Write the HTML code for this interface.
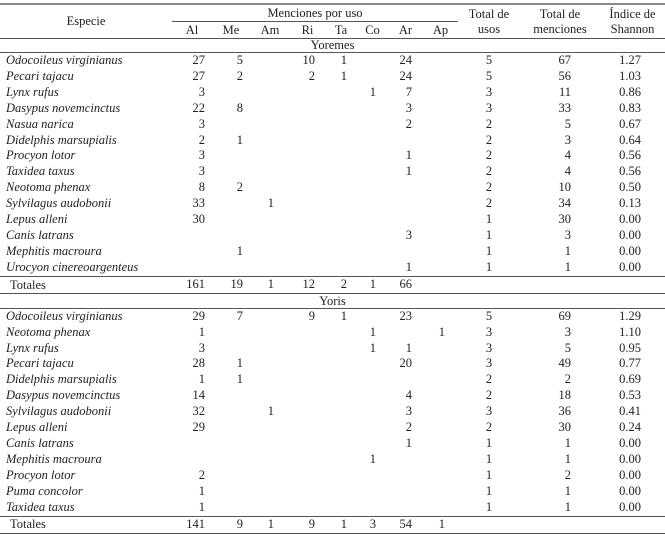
<!DOCTYPE html>
<html><head><meta charset="utf-8"><style>
body{margin:0;background:#fff;width:665px;height:533px;overflow:hidden;font-family:"Liberation Serif",serif;font-size:12.5px;color:#222}
table{position:absolute;left:0;top:3px;width:665px;border-collapse:collapse;table-layout:fixed}
td{padding:0;white-space:nowrap;height:15.9px;line-height:15.9px;text-align:right}
tr.y td{height:15.95px;line-height:15.95px}
td.s{text-align:left;padding-left:6px;font-style:italic}
td.t{text-align:left;padding-left:10px}
.c1{padding-right:7px}.c2{padding-right:7px}.c3{padding-right:16px}.c4{padding-right:10px}.c5{padding-right:10px}.c6{padding-right:12px}.c7{padding-right:11px}.c8{padding-right:13px}.c9{text-align:center}.c10{padding-right:29px}.c11{padding-right:24px}
tr.bt td{border-top:1px solid #555}
tr.bb td{border-bottom:1px solid #555}
th{font-weight:normal;text-align:center;padding:0;line-height:15px;vertical-align:middle}
.grp td{text-align:center}
</style></head><body>
<table>
<colgroup><col style="width:172px"><col style="width:40px"><col style="width:38px"><col style="width:40px"><col style="width:35px"><col style="width:32px"><col style="width:31px"><col style="width:35px"><col style="width:35px"><col style="width:62px"><col style="width:80px"><col style="width:65px"></colgroup>
<tr><th rowspan="2" style="border-top:2px solid #888;border-bottom:1px solid #555;">Especie</th><th colspan="8" style="border-top:2px solid #888;height:17px;"><div style="border-bottom:1px solid #555;line-height:16px">Menciones por uso</div></th><th rowspan="2" style="border-top:2px solid #888;border-bottom:1px solid #555;">Total de<br>usos</th><th rowspan="2" style="border-top:2px solid #888;border-bottom:1px solid #555;">Total de<br>menciones</th><th rowspan="2" style="border-top:2px solid #888;border-bottom:1px solid #555;">Índice de<br>Shannon</th></tr>
<tr><th style="border-bottom:1px solid #555;height:16px">Al</th><th style="border-bottom:1px solid #555">Me</th><th style="border-bottom:1px solid #555">Am</th><th style="border-bottom:1px solid #555">Ri</th><th style="border-bottom:1px solid #555">Ta</th><th style="border-bottom:1px solid #555">Co</th><th style="border-bottom:1px solid #555">Ar</th><th style="border-bottom:1px solid #555">Ap</th></tr>
<tr class="grp bb"><td colspan="12" style="height:13px;line-height:13px">Yoremes</td></tr>
<tr><td class="s">Odocoileus virginianus</td><td class="c1">27</td><td class="c2">5</td><td class="c3"></td><td class="c4">10</td><td class="c5">1</td><td class="c6"></td><td class="c7">24</td><td class="c8"></td><td class="c9">5</td><td class="c10">67</td><td class="c11">1.27</td></tr>
<tr><td class="s">Pecari tajacu</td><td class="c1">27</td><td class="c2">2</td><td class="c3"></td><td class="c4">2</td><td class="c5">1</td><td class="c6"></td><td class="c7">24</td><td class="c8"></td><td class="c9">5</td><td class="c10">56</td><td class="c11">1.03</td></tr>
<tr><td class="s">Lynx rufus</td><td class="c1">3</td><td class="c2"></td><td class="c3"></td><td class="c4"></td><td class="c5"></td><td class="c6">1</td><td class="c7">7</td><td class="c8"></td><td class="c9">3</td><td class="c10">11</td><td class="c11">0.86</td></tr>
<tr><td class="s">Dasypus novemcinctus</td><td class="c1">22</td><td class="c2">8</td><td class="c3"></td><td class="c4"></td><td class="c5"></td><td class="c6"></td><td class="c7">3</td><td class="c8"></td><td class="c9">3</td><td class="c10">33</td><td class="c11">0.83</td></tr>
<tr><td class="s">Nasua narica</td><td class="c1">3</td><td class="c2"></td><td class="c3"></td><td class="c4"></td><td class="c5"></td><td class="c6"></td><td class="c7">2</td><td class="c8"></td><td class="c9">2</td><td class="c10">5</td><td class="c11">0.67</td></tr>
<tr><td class="s">Didelphis marsupialis</td><td class="c1">2</td><td class="c2">1</td><td class="c3"></td><td class="c4"></td><td class="c5"></td><td class="c6"></td><td class="c7"></td><td class="c8"></td><td class="c9">2</td><td class="c10">3</td><td class="c11">0.64</td></tr>
<tr><td class="s">Procyon lotor</td><td class="c1">3</td><td class="c2"></td><td class="c3"></td><td class="c4"></td><td class="c5"></td><td class="c6"></td><td class="c7">1</td><td class="c8"></td><td class="c9">2</td><td class="c10">4</td><td class="c11">0.56</td></tr>
<tr><td class="s">Taxidea taxus</td><td class="c1">3</td><td class="c2"></td><td class="c3"></td><td class="c4"></td><td class="c5"></td><td class="c6"></td><td class="c7">1</td><td class="c8"></td><td class="c9">2</td><td class="c10">4</td><td class="c11">0.56</td></tr>
<tr><td class="s">Neotoma phenax</td><td class="c1">8</td><td class="c2">2</td><td class="c3"></td><td class="c4"></td><td class="c5"></td><td class="c6"></td><td class="c7"></td><td class="c8"></td><td class="c9">2</td><td class="c10">10</td><td class="c11">0.50</td></tr>
<tr><td class="s">Sylvilagus audobonii</td><td class="c1">33</td><td class="c2"></td><td class="c3">1</td><td class="c4"></td><td class="c5"></td><td class="c6"></td><td class="c7"></td><td class="c8"></td><td class="c9">2</td><td class="c10">34</td><td class="c11">0.13</td></tr>
<tr><td class="s">Lepus alleni</td><td class="c1">30</td><td class="c2"></td><td class="c3"></td><td class="c4"></td><td class="c5"></td><td class="c6"></td><td class="c7"></td><td class="c8"></td><td class="c9">1</td><td class="c10">30</td><td class="c11">0.00</td></tr>
<tr><td class="s">Canis latrans</td><td class="c1"></td><td class="c2"></td><td class="c3"></td><td class="c4"></td><td class="c5"></td><td class="c6"></td><td class="c7">3</td><td class="c8"></td><td class="c9">1</td><td class="c10">3</td><td class="c11">0.00</td></tr>
<tr><td class="s">Mephitis macroura</td><td class="c1"></td><td class="c2">1</td><td class="c3"></td><td class="c4"></td><td class="c5"></td><td class="c6"></td><td class="c7"></td><td class="c8"></td><td class="c9">1</td><td class="c10">1</td><td class="c11">0.00</td></tr>
<tr><td class="s">Urocyon cinereoargenteus</td><td class="c1"></td><td class="c2"></td><td class="c3"></td><td class="c4"></td><td class="c5"></td><td class="c6"></td><td class="c7">1</td><td class="c8"></td><td class="c9">1</td><td class="c10">1</td><td class="c11">0.00</td></tr>
<tr class="bt bb"><td class="t" style="height:14px;line-height:14px">Totales</td><td class="c1">161</td><td class="c2">19</td><td class="c3">1</td><td class="c4">12</td><td class="c5">2</td><td class="c6">1</td><td class="c7">66</td><td class="c8"></td><td class="c9"></td><td class="c10"></td><td class="c11"></td></tr>
<tr class="grp bb"><td colspan="12" style="height:14px;line-height:14px">Yoris</td></tr>
<tr class="y"><td class="s">Odocoileus virginianus</td><td class="c1">29</td><td class="c2">7</td><td class="c3"></td><td class="c4">9</td><td class="c5">1</td><td class="c6"></td><td class="c7">23</td><td class="c8"></td><td class="c9">5</td><td class="c10">69</td><td class="c11">1.29</td></tr>
<tr class="y"><td class="s">Neotoma phenax</td><td class="c1">1</td><td class="c2"></td><td class="c3"></td><td class="c4"></td><td class="c5"></td><td class="c6">1</td><td class="c7"></td><td class="c8">1</td><td class="c9">3</td><td class="c10">3</td><td class="c11">1.10</td></tr>
<tr class="y"><td class="s">Lynx rufus</td><td class="c1">3</td><td class="c2"></td><td class="c3"></td><td class="c4"></td><td class="c5"></td><td class="c6">1</td><td class="c7">1</td><td class="c8"></td><td class="c9">3</td><td class="c10">5</td><td class="c11">0.95</td></tr>
<tr class="y"><td class="s">Pecari tajacu</td><td class="c1">28</td><td class="c2">1</td><td class="c3"></td><td class="c4"></td><td class="c5"></td><td class="c6"></td><td class="c7">20</td><td class="c8"></td><td class="c9">3</td><td class="c10">49</td><td class="c11">0.77</td></tr>
<tr class="y"><td class="s">Didelphis marsupialis</td><td class="c1">1</td><td class="c2">1</td><td class="c3"></td><td class="c4"></td><td class="c5"></td><td class="c6"></td><td class="c7"></td><td class="c8"></td><td class="c9">2</td><td class="c10">2</td><td class="c11">0.69</td></tr>
<tr class="y"><td class="s">Dasypus novemcinctus</td><td class="c1">14</td><td class="c2"></td><td class="c3"></td><td class="c4"></td><td class="c5"></td><td class="c6"></td><td class="c7">4</td><td class="c8"></td><td class="c9">2</td><td class="c10">18</td><td class="c11">0.53</td></tr>
<tr class="y"><td class="s">Sylvilagus audobonii</td><td class="c1">32</td><td class="c2"></td><td class="c3">1</td><td class="c4"></td><td class="c5"></td><td class="c6"></td><td class="c7">3</td><td class="c8"></td><td class="c9">3</td><td class="c10">36</td><td class="c11">0.41</td></tr>
<tr class="y"><td class="s">Lepus alleni</td><td class="c1">29</td><td class="c2"></td><td class="c3"></td><td class="c4"></td><td class="c5"></td><td class="c6"></td><td class="c7">2</td><td class="c8"></td><td class="c9">2</td><td class="c10">30</td><td class="c11">0.24</td></tr>
<tr class="y"><td class="s">Canis latrans</td><td class="c1"></td><td class="c2"></td><td class="c3"></td><td class="c4"></td><td class="c5"></td><td class="c6"></td><td class="c7">1</td><td class="c8"></td><td class="c9">1</td><td class="c10">1</td><td class="c11">0.00</td></tr>
<tr class="y"><td class="s">Mephitis macroura</td><td class="c1"></td><td class="c2"></td><td class="c3"></td><td class="c4"></td><td class="c5"></td><td class="c6">1</td><td class="c7"></td><td class="c8"></td><td class="c9">1</td><td class="c10">1</td><td class="c11">0.00</td></tr>
<tr class="y"><td class="s">Procyon lotor</td><td class="c1">2</td><td class="c2"></td><td class="c3"></td><td class="c4"></td><td class="c5"></td><td class="c6"></td><td class="c7"></td><td class="c8"></td><td class="c9">1</td><td class="c10">2</td><td class="c11">0.00</td></tr>
<tr class="y"><td class="s">Puma concolor</td><td class="c1">1</td><td class="c2"></td><td class="c3"></td><td class="c4"></td><td class="c5"></td><td class="c6"></td><td class="c7"></td><td class="c8"></td><td class="c9">1</td><td class="c10">1</td><td class="c11">0.00</td></tr>
<tr class="y"><td class="s">Taxidea taxus</td><td class="c1">1</td><td class="c2"></td><td class="c3"></td><td class="c4"></td><td class="c5"></td><td class="c6"></td><td class="c7"></td><td class="c8"></td><td class="c9">1</td><td class="c10">1</td><td class="c11">0.00</td></tr>
<tr class="bt bb"><td class="t" style="height:13px;line-height:13px">Totales</td><td class="c1">141</td><td class="c2">9</td><td class="c3">1</td><td class="c4">9</td><td class="c5">1</td><td class="c6">3</td><td class="c7">54</td><td class="c8">1</td><td class="c9"></td><td class="c10"></td><td class="c11"></td></tr>
</table>
</body></html>
